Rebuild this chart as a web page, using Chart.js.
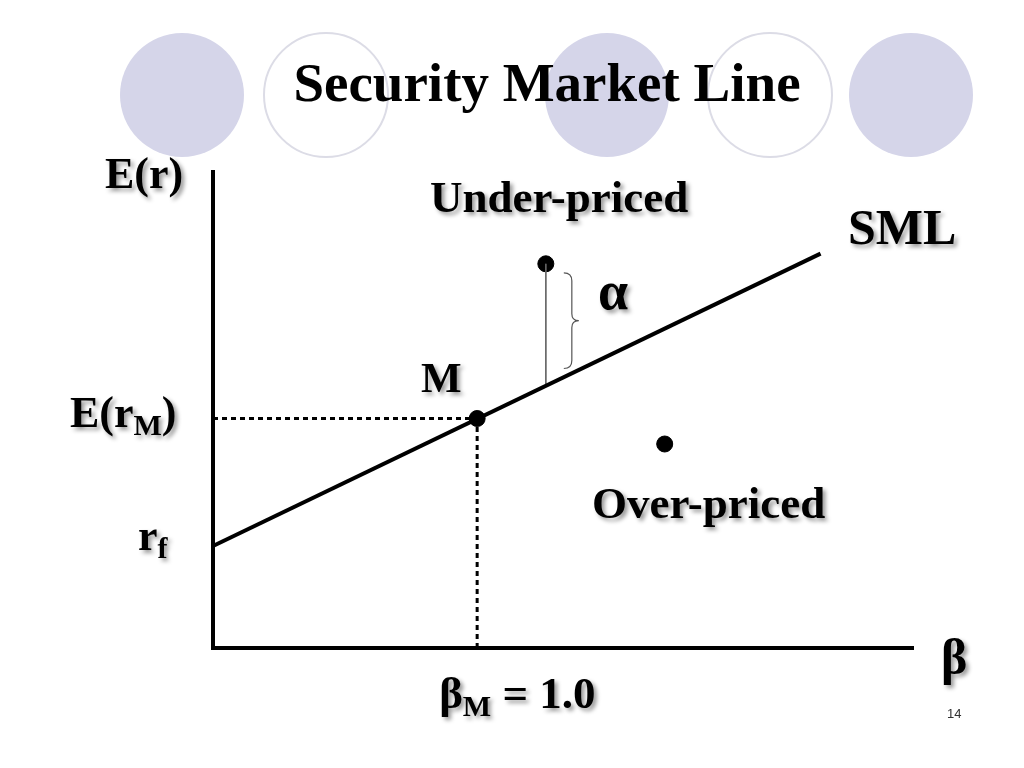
<!DOCTYPE html>
<html>
<head>
<meta charset="utf-8">
<script src="https://cdn.jsdelivr.net/npm/chart.js@4.4.1/dist/chart.umd.min.js"></script>
<style>
  body { margin: 0; background: #fff; }
  #wrap { width: 1024px; height: 768px; }
</style>
</head>
<body>
<div id="wrap"><canvas id="smlChart" width="1024" height="768"></canvas></div>
<script>
// data (beta on x, expected return on y)
const smlBeta = [0, 2.3];
const smlReturn = [3.0, 11.6];
const riskFree = 3.0;
const marketBeta = 1.0;
const marketReturn = 6.75;
const pointBeta = [1.0, 1.26, 1.71];      // M, under-priced, over-priced
const pointReturn = [6.75, 11.3, 6.0];
const alphaBeta = [1.26, 1.26];
const alphaReturn = [11.3, 7.75];

const serif = '"Liberation Serif", "Times New Roman", serif';

function pts(xs, ys) {
    return xs.map(function(x, i) { return { x: x, y: ys[i] }; });
}

// slide decoration + labels
const slidePlugin = {
    id: 'slide',
    beforeDraw: function(chart) {
        const ctx = chart.ctx;
        ctx.save();
        ctx.fillStyle = '#fff';
        ctx.fillRect(0, 0, chart.width, chart.height);
        const circles = [[182, true], [326, false], [607, true], [770, false], [911, true]];
        circles.forEach(function(c) {
            ctx.beginPath();
            ctx.arc(c[0], 95, 62, 0, Math.PI * 2);
            if (c[1]) {
                ctx.fillStyle = '#d5d5e9';
                ctx.fill();
            } else {
                ctx.strokeStyle = '#dcdce6';
                ctx.lineWidth = 2;
                ctx.stroke();
            }
        });
        ctx.fillStyle = '#000';
        ctx.font = 'bold 55px ' + serif;
        ctx.textAlign = 'center';
        ctx.textBaseline = 'alphabetic';
        ctx.fillText('Security Market Line', 547, 101);
        ctx.restore();
    },
    afterDraw: function(chart) {
        const ctx = chart.ctx;
        const xs = chart.scales.x, ys = chart.scales.y;
        ctx.save();

        // brace next to alpha
        const bx = xs.getPixelForValue(alphaBeta[0]) + 18;
        const top = ys.getPixelForValue(alphaReturn[0]) + 9;
        const bot = ys.getPixelForValue(alphaReturn[1]) - 16;
        const mid = (top + bot) / 2;
        ctx.strokeStyle = '#555';
        ctx.lineWidth = 1.2;
        ctx.beginPath();
        ctx.moveTo(bx, top);
        ctx.quadraticCurveTo(bx + 8, top, bx + 8, top + 8);
        ctx.lineTo(bx + 8, mid - 7);
        ctx.quadraticCurveTo(bx + 8, mid, bx + 15, mid);
        ctx.quadraticCurveTo(bx + 8, mid, bx + 8, mid + 7);
        ctx.lineTo(bx + 8, bot - 8);
        ctx.quadraticCurveTo(bx + 8, bot, bx, bot);
        ctx.stroke();

        ctx.shadowColor = 'rgba(0,0,0,0.4)';
        ctx.shadowOffsetX = 3;
        ctx.shadowOffsetY = 3;
        ctx.shadowBlur = 4;
        ctx.fillStyle = '#000';
        ctx.textBaseline = 'alphabetic';
        ctx.textAlign = 'left';

        function label(parts, x, y) {
            parts.forEach(function(p) {
                ctx.font = 'bold ' + p[1] + 'px ' + serif;
                ctx.fillText(p[0], x, y + (p[2] || 0));
                x += ctx.measureText(p[0]).width;
            });
        }

        const rfY = ys.getPixelForValue(riskFree);
        const rmY = ys.getPixelForValue(marketReturn);
        const mX = xs.getPixelForValue(marketBeta);

        label([['E(r)', 44]], 105, 188);
        label([['Under-priced', 45]], 430, 212);
        label([['SML', 50]], 848, 244);
        label([['\u03b1', 54]], 598, 309);
        label([['M', 43]], 421, 392);
        label([['E(r', 44], ['M', 30, 8], [')', 44]], 70, rmY + 8);
        label([['r', 44], ['f', 30, 8]], 138, rfY + 4);
        label([['Over-priced', 45]], 592, 518);
        label([['\u03b2', 50]], 941, 674);
        label([['\u03b2', 45], ['M', 30, 8], [' = 1.0', 45]], mX - 38, 708);

        ctx.shadowColor = 'transparent';
        ctx.font = '13px "Liberation Sans", Arial, sans-serif';
        ctx.fillStyle = '#333';
        ctx.fillText('14', 947, 718);
        ctx.restore();
    }
};

const config = {
    type: 'scatter',
    data: {
        datasets: [{
            label: 'SML',
            data: pts(smlBeta, smlReturn),
            showLine: true,
            borderColor: '#000',
            borderWidth: 4,
            pointRadius: 0
        }, {
            label: 'E(rM) guide',
            data: pts([0, marketBeta], [marketReturn, marketReturn]),
            showLine: true,
            borderColor: '#000',
            borderWidth: 3,
            borderDash: [5, 4],
            pointRadius: 0
        }, {
            label: 'beta guide',
            data: pts([marketBeta, marketBeta], [0, marketReturn]),
            showLine: true,
            borderColor: '#000',
            borderWidth: 3,
            borderDash: [5, 4],
            pointRadius: 0
        }, {
            label: 'alpha',
            data: pts(alphaBeta, alphaReturn),
            showLine: true,
            borderColor: '#666',
            borderWidth: 1,
            pointRadius: 0
        }, {
            label: 'securities',
            data: pts(pointBeta, pointReturn),
            showLine: false,
            backgroundColor: '#000',
            borderColor: '#000',
            pointRadius: 8
        }]
    },
    options: {
        responsive: false,
        animation: false,
        clip: false,
        layout: { padding: { left: 205, right: 111, top: 172, bottom: 112 } },
        plugins: {
            legend: { display: false },
            tooltip: { enabled: false }
        },
        scales: {
            x: {
                type: 'linear', min: 0, max: 2.65,
                grid: { display: false },
                ticks: { display: false },
                border: { display: true, color: '#000', width: 4 }
            },
            y: {
                type: 'linear', min: 0, max: 14,
                grid: { display: false },
                ticks: { display: false },
                border: { display: true, color: '#000', width: 4 }
            }
        }
    },
    plugins: [slidePlugin]
};

const smlChart = new Chart(document.getElementById('smlChart'), config);
</script>
</body>
</html>
